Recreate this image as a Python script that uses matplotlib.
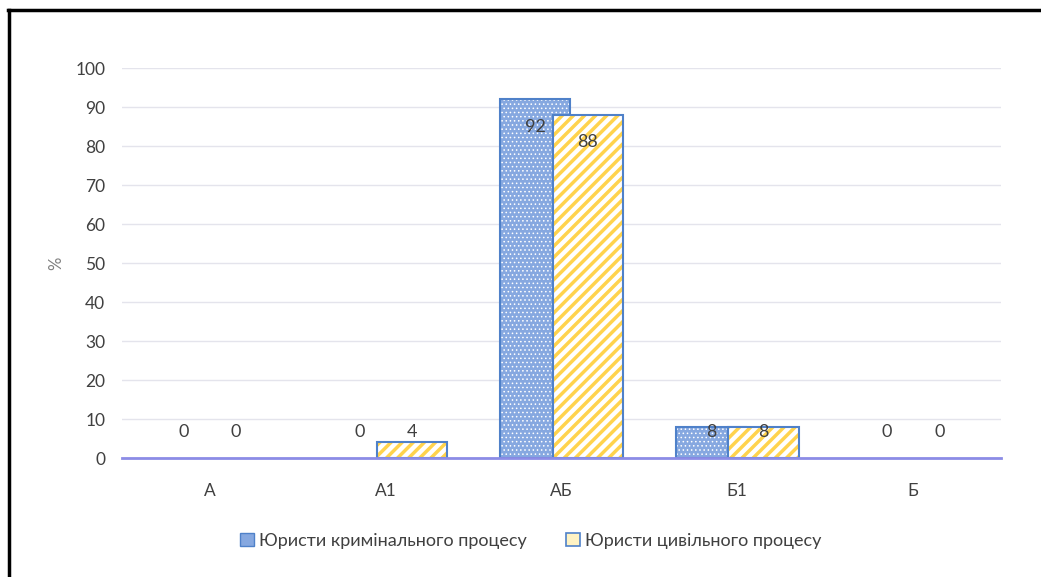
import numpy as np
import matplotlib.pyplot as plt
from matplotlib.patches import Patch
from matplotlib.lines import Line2D

plt.rcParams['font.family'] = ['Lato', 'DejaVu Sans']

categories = ["А", "А1", "АБ", "Б1", "Б"]
criminal = [0, 0, 92, 8, 0]
civil = [0, 4, 88, 8, 0]
series_names = ["Юристи кримінального процесу", "Юристи цивільного процесу"]

BLUE_FILL = "#86a8e0"
BLUE_EDGE = "#4f81c9"
YELLOW = "#ffd34d"
TEXT = "#404040"

fig = plt.figure(figsize=(10.41, 5.77), dpi=100)
ax = fig.add_axes([0.117, 0.2062, 0.8446, 0.6758])

x = np.arange(len(categories))
w = 0.4
off = 0.15

crim = np.array(criminal, dtype=float)
civ = np.array(civil, dtype=float)
crim_show = crim > 0
civ_show = civ > 0

# blue bars: light fill + white dots, blue outline
with plt.rc_context({'hatch.linewidth': 0.6}):
    ax.bar((x - off)[crim_show], crim[crim_show], w, color=BLUE_FILL,
           edgecolor="white", hatch="....", linewidth=0, zorder=2)
ax.bar((x - off)[crim_show], crim[crim_show], w, fill=False,
       edgecolor=BLUE_EDGE, linewidth=1.5, zorder=3)
# yellow striped bars, blue outline (drawn on top)
with plt.rc_context({'hatch.linewidth': 2.5}):
    ax.bar((x + off)[civ_show], civ[civ_show], w, color="white",
           edgecolor=YELLOW, hatch="///", linewidth=0, zorder=4)
ax.bar((x + off)[civ_show], civ[civ_show], w, fill=False,
       edgecolor=BLUE_EDGE, linewidth=1.5, zorder=5)

for xi, v in zip(x - off, criminal):
    ax.text(xi, max(v - 7, 6.8), str(v), ha="center", va="center",
            fontsize=13, color=TEXT, zorder=6)
for xi, v in zip(x + off, civil):
    ax.text(xi, max(v - 7, 6.8), str(v), ha="center", va="center",
            fontsize=13, color=TEXT, zorder=6)

ax.set_xlim(-0.5, len(categories) - 0.5)
ax.set_ylim(0, 100)
ax.set_yticks(np.arange(0, 101, 10))
ax.set_xticks(x)
ax.set_xticklabels(categories)
ax.tick_params(axis="both", length=0, labelsize=12.5, colors=TEXT)
ax.tick_params(axis="y", pad=12)
ax.tick_params(axis="x", pad=18)
ax.grid(axis="y", color="#e4e4ec", linewidth=1, zorder=0)
ax.set_axisbelow(True)
for s in ["top", "right", "left"]:
    ax.spines[s].set_visible(False)
ax.spines["bottom"].set_color("#8c8ce6")
ax.spines["bottom"].set_linewidth(2)
ax.spines["bottom"].set_zorder(7)
ax.set_ylabel("%", fontsize=12, color="#7f7f7f", labelpad=8)

handles = [
    Patch(facecolor=BLUE_FILL, edgecolor=BLUE_EDGE, linewidth=1),
    Patch(facecolor="#fff3c4", edgecolor=BLUE_EDGE, linewidth=1.2),
]
leg = fig.legend(handles, series_names, loc="center", bbox_to_anchor=(0.51, 0.063),
                 ncol=2, frameon=False, fontsize=13, handlelength=0.75,
                 handleheight=0.75, handletextpad=0.3, columnspacing=2.2)
for t in leg.get_texts():
    t.set_color(TEXT)

# frame of the page scan
fig.add_artist(Line2D([8 / 1041, 1.0], [1 - 9.5 / 577, 1 - 9.5 / 577],
                      color="black", linewidth=2.5, transform=fig.transFigure))
fig.add_artist(Line2D([8.5 / 1041, 8.5 / 1041], [0, 1 - 9.5 / 577],
                      color="black", linewidth=2.5, transform=fig.transFigure))

fig.savefig("out.png", dpi=100)
